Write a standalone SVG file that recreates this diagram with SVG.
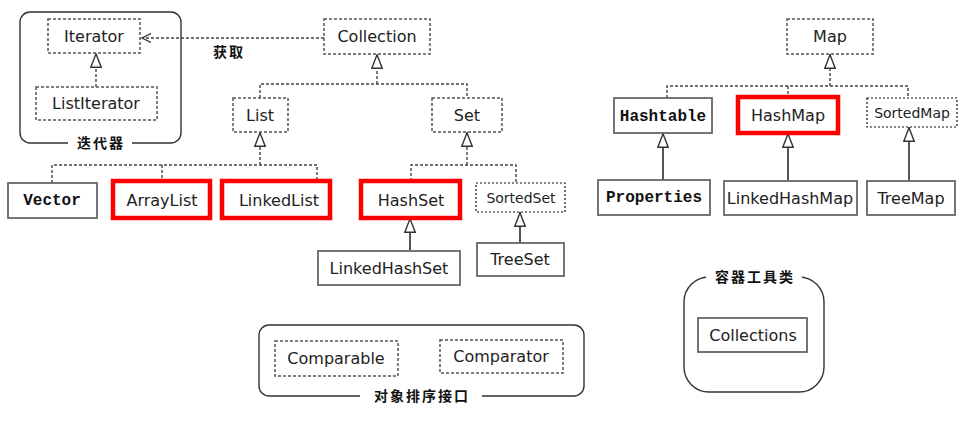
<svg xmlns="http://www.w3.org/2000/svg" width="978" height="432" viewBox="0 0 978 432">
<defs>
<marker id="tri" viewBox="0 0 15 12" refX="15" refY="6" markerWidth="15" markerHeight="12" markerUnits="userSpaceOnUse" orient="auto">
<path d="M0.8,0.8 L14.2,6 L0.8,11.2 Z" fill="#fff" stroke="#333" stroke-width="1.4"/>
</marker>
<marker id="open" viewBox="0 0 10 10" refX="9" refY="5" markerWidth="10" markerHeight="10" markerUnits="userSpaceOnUse" orient="auto">
<path d="M0,0.5 L9,5 L0,9.5" fill="none" stroke="#333" stroke-width="1.2"/>
</marker>
</defs>
<style>
.dash{fill:#fff;stroke:#555;stroke-width:1.5;stroke-dasharray:3 2}
.dot{fill:#fff;stroke:#111;stroke-width:1.2;stroke-dasharray:2 2}
.solid{fill:#fff;stroke:#666;stroke-width:1.8}
.red{fill:#fff;stroke:#ff0000;stroke-width:4.5}
.grp{fill:none;stroke:#333;stroke-width:1.4}
.t{font-family:"DejaVu Sans",Verdana,sans-serif;font-size:16px;fill:#222;text-anchor:middle}
.ts{font-family:"DejaVu Sans",Verdana,sans-serif;font-size:14px;fill:#222;text-anchor:middle}
.m{font-family:"Liberation Mono","Courier New",monospace;font-weight:bold;font-size:16px;fill:#111;text-anchor:middle}
.cn{font-family:"Noto Sans CJK SC",sans-serif;font-weight:bold;font-size:14px;fill:#111;text-anchor:middle;letter-spacing:2px}
.c{fill:none;stroke:#444;stroke-width:1.4;stroke-dasharray:3 2}
.cs{fill:none;stroke:#555;stroke-width:2}
</style>
<rect width="978" height="432" fill="#fff"/>

<g id="grp-iterator">
<rect class="grp" x="20" y="12" width="161" height="131" rx="10"/>
<rect x="68" y="135" width="64" height="16" fill="#fff"/>
<text class="cn" x="101" y="148">迭代器</text>
</g>
<g id="grp-compare">
<rect class="grp" x="259" y="325" width="325" height="71" rx="10"/>
<rect x="360" y="388" width="122" height="16" fill="#fff"/>
<text class="cn" x="422" y="401">对象排序接口</text>
</g>
<g id="grp-tools">
<rect class="grp" x="684" y="277" width="140" height="115" rx="25"/>
<rect x="706" y="269" width="96" height="16" fill="#fff"/>
<text class="cn" x="755" y="282">容器工具类</text>
</g>

<g id="connectors">
<path class="c" d="M324,38 H142" marker-end="url(#open)"/>
<text class="cn" x="229" y="57">获取</text>
<path class="c" d="M96,87 V53" marker-end="url(#tri)"/>
<path class="c" d="M377,84 V54" marker-end="url(#tri)"/>
<path class="c" d="M260,98 V84 H467 V98"/>
<path class="c" d="M260,165 V132" marker-end="url(#tri)"/>
<path class="c" d="M52,183 V165 H317 V181 M162,165 V181"/>
<path class="c" d="M467,165 V132" marker-end="url(#tri)"/>
<path class="c" d="M411,181 V165 H516 V183"/>
<path class="cs" d="M410,250 V218" marker-end="url(#tri)"/>
<path class="cs" d="M520,243 V212" marker-end="url(#tri)"/>
<path class="c" d="M830,86 V54" marker-end="url(#tri)"/>
<path class="c" d="M667,98 V86 H908 V98 M788,86 V97"/>
<path class="cs" d="M663,180 V133" marker-end="url(#tri)"/>
<path class="cs" d="M788,181 V133" marker-end="url(#tri)"/>
<path class="cs" d="M909,181 V127" marker-end="url(#tri)"/>
</g>

<g id="n-iterator"><rect class="dash" x="48" y="19" width="92" height="34"/><text class="t" x="94" y="42">Iterator</text></g>
<g id="n-listiterator"><rect class="dash" x="36" y="87" width="121" height="33"/><text class="t" x="96" y="109">ListIterator</text></g>
<g id="n-collection"><rect class="dash" x="324" y="19" width="106" height="35"/><text class="t" x="377" y="42">Collection</text></g>
<g id="n-list"><rect class="dash" x="233" y="98" width="55" height="34"/><text class="t" x="260" y="121">List</text></g>
<g id="n-set"><rect class="dash" x="432" y="98" width="70" height="34"/><text class="t" x="467" y="121">Set</text></g>
<g id="n-vector"><rect class="solid" x="8" y="183" width="89" height="35"/><text class="m" x="52" y="205">Vector</text></g>
<g id="n-arraylist"><rect class="red" x="113" y="181" width="97" height="37"/><text class="t" x="162" y="206">ArrayList</text></g>
<g id="n-linkedlist"><rect class="red" x="222" y="181" width="108" height="37"/><text class="t" x="279" y="206">LinkedList</text></g>
<g id="n-hashset"><rect class="red" x="361" y="181" width="99" height="37"/><text class="t" x="411" y="206">HashSet</text></g>
<g id="n-sortedset"><rect class="dot" x="476" y="183" width="89" height="29"/><text class="ts" x="521" y="203">SortedSet</text></g>
<g id="n-linkedhashset"><rect class="solid" x="318" y="251" width="142" height="34"/><text class="t" x="389" y="274">LinkedHashSet</text></g>
<g id="n-treeset"><rect class="solid" x="477" y="243" width="87" height="33"/><text class="t" x="520" y="265">TreeSet</text></g>
<g id="n-map"><rect class="dash" x="787" y="19" width="86" height="35"/><text class="t" x="830" y="42">Map</text></g>
<g id="n-hashtable"><rect class="solid" x="614" y="98" width="98" height="35"/><text class="m" x="663" y="121">Hashtable</text></g>
<g id="n-hashmap"><rect class="red" x="738" y="97" width="100" height="36"/><text class="t" x="788" y="121">HashMap</text></g>
<g id="n-sortedmap"><rect class="dot" x="867" y="98" width="90" height="29"/><text class="ts" x="912" y="118">SortedMap</text></g>
<g id="n-properties"><rect class="solid" x="598" y="180" width="112" height="35"/><text class="m" x="654" y="202">Properties</text></g>
<g id="n-linkedhashmap"><rect class="solid" x="724" y="181" width="133" height="34"/><text class="t" x="790" y="204">LinkedHashMap</text></g>
<g id="n-treemap"><rect class="solid" x="867" y="181" width="88" height="34"/><text class="t" x="911" y="204">TreeMap</text></g>
<g id="n-comparable"><rect class="dash" x="275" y="341" width="123" height="35"/><text class="t" x="336" y="364">Comparable</text></g>
<g id="n-comparator"><rect class="dash" x="440" y="340" width="123" height="33"/><text class="t" x="501" y="362">Comparator</text></g>
<g id="n-collections"><rect class="solid" x="698" y="318" width="109" height="34"/><text class="t" x="753" y="341">Collections</text></g>
</svg>
